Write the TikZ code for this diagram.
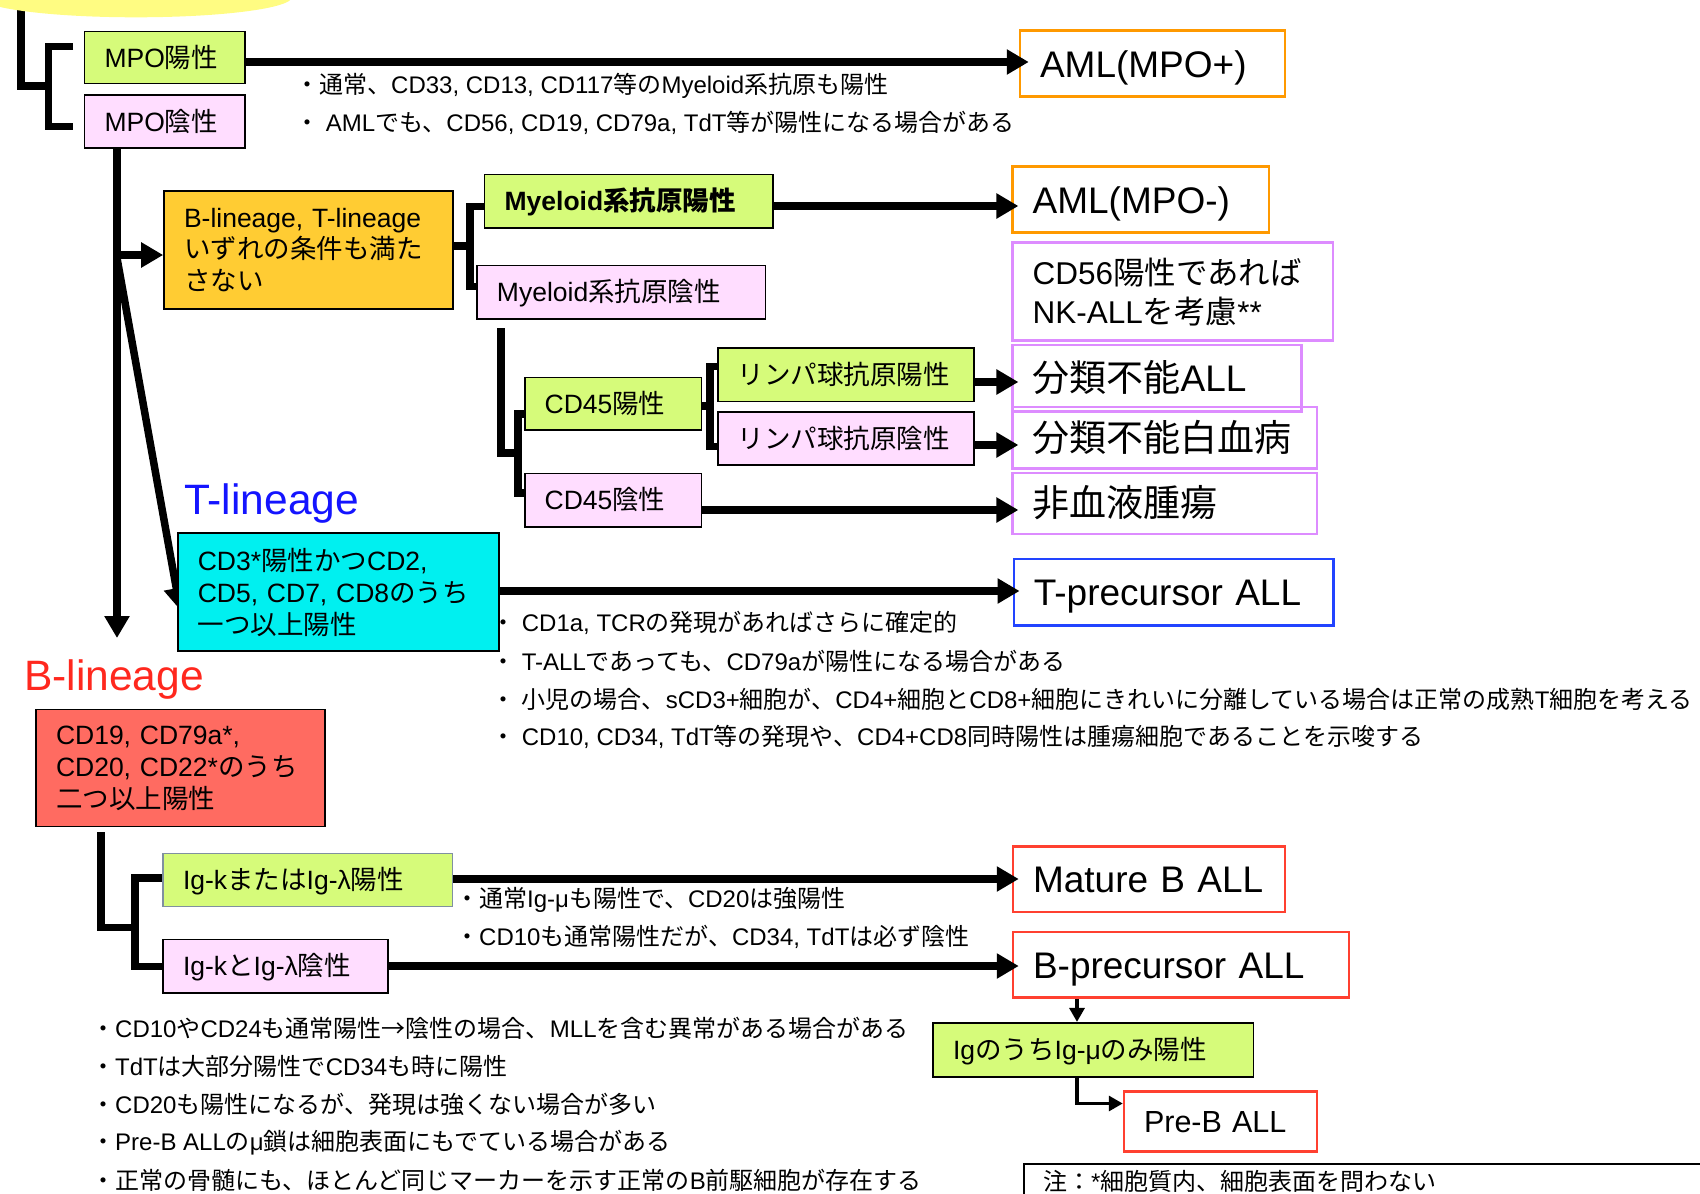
\documentclass[tikz,border=0pt]{standalone}
\usepackage{fontspec}
\setmainfont{Liberation Sans}
\newfontfamily\jpfont{Noto Sans CJK JP}
\usetikzlibrary{arrows.meta,calc}
\pgfdeclarelayer{bg}
\pgfsetlayers{bg,main}
\definecolor{cgreen}{RGB}{214,251,122}
\definecolor{cpink}{RGB}{255,221,255}
\definecolor{corange}{RGB}{255,204,51}
\definecolor{ccyan}{RGB}{0,240,240}
\definecolor{csalmon}{RGB}{255,107,97}
\definecolor{amlor}{RGB}{255,153,0}
\definecolor{vio}{RGB}{221,140,255}
\definecolor{tbord}{RGB}{34,68,255}
\definecolor{rbord}{RGB}{255,64,48}
\definecolor{tblue}{RGB}{20,20,255}
\definecolor{bred}{RGB}{255,40,30}
\definecolor{cyellow}{RGB}{255,252,130}
\definecolor{cgrayb}{RGB}{128,144,160}
% automatic switch to the Japanese font for CJK characters
\XeTeXinterchartokenstate=1
\newXeTeXintercharclass\JPclass
\newcount\jpc
\def\setjprange#1#2{\jpc=#1\relax\loop\XeTeXcharclass\jpc=\JPclass\ifnum\jpc<#2\relax\advance\jpc by 1\repeat}
\setjprange{"3000}{"30FF}
\setjprange{"4E00}{"9FFF}
\setjprange{"FF00}{"FFEF}
\XeTeXcharclass"2192=\JPclass
\XeTeXinterchartoks 0 \JPclass={\begingroup\jpfont}
\XeTeXinterchartoks 4095 \JPclass={\begingroup\jpfont}
\XeTeXinterchartoks \JPclass 0={\endgroup}
\XeTeXinterchartoks \JPclass 4095={\endgroup}
\begin{document}
\begin{tikzpicture}[x=1pt,y=-1pt,
 thk/.style={line width=7.5pt,-{Triangle[length=22pt,width=24pt]}},
 lk/.style={line width=7.5pt},
 thn/.style={line width=3.2pt,-{Triangle[length=14pt,width=15pt]}},
 bx/.style n args={3}{rectangle,inner xsep=20pt,inner ysep=0pt,align=left,minimum width=#1pt,text width=#2pt,minimum height=#3pt},
 blk/.style={draw=black,line width=1.6pt},
 gb/.style={blk,fill=cgreen},
 pb/.style={blk,fill=cpink},
 rb/.style={draw=#1,line width=2.5pt},
 f26/.style={font=\fontsize{26.5}{31.5}\selectfont},
 one26/.style={f26,text height=19.1pt,text depth=0pt},
 one37/.style={font=\fontsize{37}{44}\selectfont,text height=26.6pt,text depth=0pt},
 nt/.style={font=\fontsize{24}{28}\selectfont,inner sep=0pt,anchor=base west},
]
\useasboundingbox (0,0) rectangle (1700,1194);

% ---------- boxes ----------
\node[bx={160.4}{120.4}{52},gb,one26] (mpop) at (164.8,57.5) {MPO陽性};
\node[bx={160.4}{120.4}{53},pb,one26] (mpon) at (164.8,121.5) {MPO陰性};
\node[bx={265}{225}{66},rb=amlor,one37] (amlp) at (1152.5,63.7) {AML(MPO+)};
\node[bx={289}{249}{118},blk,fill=corange,f26] (neither) at (308.5,250) {B-lineage, T-lineage\\いずれの条件も満た\\さない};
\node[bx={288.4}{248.4}{53.5},gb,one26,font=\fontsize{26.5}{31.5}\selectfont\bfseries] (myp) at (628.8,201.3) {Myeloid系抗原陽性};
\node[bx={288.7}{248.7}{53.3},pb,one26] (myn) at (621.3,292.3) {Myeloid系抗原陰性};
\node[bx={256.3}{216.3}{66},rb=amlor,one37] (amln) at (1140.8,199.7) {AML(MPO-)};
\node[bx={320.3}{280.3}{98},rb=vio,font=\fontsize{31.5}{39}\selectfont] (nk) at (1172.8,291.7) {CD56陽性であれば\\NK-ALLを考慮**};
\node[bx={289}{249}{66.7},rb=vio,one37] (unall) at (1157.2,378.3) {分類不能ALL};
\node[bx={304.3}{264.3}{61.5},rb=vio,one37] (unleuk) at (1164.8,437.8) {分類不能白血病};
\node[bx={304.3}{264.3}{61},rb=vio,one37] (nonheme) at (1164.8,503.5) {非血液腫瘍};
\node[bx={176.8}{136.8}{52.5},gb,one26] (cd45p) at (613.1,403.8) {CD45陽性};
\node[bx={176.8}{136.8}{53.5},pb,one26] (cd45n) at (613.1,500.3) {CD45陰性};
\node[bx={256}{216}{53.5},gb,one26] (lymp) at (845.7,374.8) {リンパ球抗原陽性};
\node[bx={256}{216}{53},pb,one26] (lymn) at (845.7,438.5) {リンパ球抗原陰性};
\node[anchor=base west,inner sep=0pt,text=tblue,font=\fontsize{42.5}{50}\selectfont] (tlab) at (184,514) {T-lineage};
\node[bx={320.9}{280.9}{118},blk,fill=ccyan,font=\fontsize{26.5}{32}\selectfont] (tbox) at (338.25,592) {CD3*陽性かつCD2,\\CD5, CD7, CD8のうち\\一つ以上陽性};
\node[bx={319.9}{279.9}{66.5},rb=tbord,one37] (tprec) at (1173.75,592.25) {T-precursor ALL};
\node[anchor=base west,inner sep=0pt,text=bred,font=\fontsize{42.5}{50}\selectfont] (blab) at (24,690) {B-lineage};
\node[bx={289}{249}{117},blk,fill=csalmon,font=\fontsize{26.5}{32}\selectfont] (bbox) at (180.5,768) {CD19, CD79a*,\\CD20, CD22*のうち\\二つ以上陽性};
\node[bx={289.5}{249.5}{53.3},draw=cgrayb,line width=1.6pt,fill=cgreen,one26] (igkp) at (307.75,880) {Ig-kまたはIg-λ陽性};
\node[bx={225}{185}{53.7},pb,one26] (igkn) at (275.5,966.2) {Ig-kとIg-λ陰性};
\node[bx={272}{232}{65.3},rb=rbord,one37] (mature) at (1149,879.3) {Mature B ALL};
\node[bx={336}{296}{65.7},rb=rbord,one37] (bprec) at (1181,964.8) {B-precursor ALL};
\node[bx={320.3}{280.3}{54},gb,one26] (igmu) at (1093.2,1049.7) {IgのうちIg-μのみ陽性};
\node[bx={193}{153}{60},rb=rbord,font=\fontsize{30.5}{36}\selectfont,text height=22pt,text depth=0pt] (preb) at (1220.5,1121.7) {Pre-B ALL};
\node[draw=black,line width=2pt,anchor=north west,minimum width=720pt,minimum height=80pt,inner sep=0pt] (notebox) at (1023,1163) {};
\node[nt] (notetxt) at (1043,1190.4) {注：*細胞質内、細胞表面を問わない};

% ---------- notes ----------
\node[nt] (n1) at (295,93.3) {・通常、CD33, CD13, CD117等のMyeloid系抗原も陽性};
\node[nt] (n2) at (295,131.2) {・ AMLでも、CD56, CD19, CD79a, TdT等が陽性になる場合がある};
\node[nt] (t1) at (491,631) {・ CD1a, TCRの発現があればさらに確定的};
\node[nt] (t2) at (491,670) {・ T-ALLであっても、CD79aが陽性になる場合がある};
\node[nt] (t3) at (491,708) {・ 小児の場合、sCD3+細胞が、CD4+細胞とCD8+細胞にきれいに分離している場合は正常の成熟T細胞を考える};
\node[nt] (t4) at (491,745.5) {・ CD10, CD34, TdT等の発現や、CD4+CD8同時陽性は腫瘍細胞であることを示唆する};
\node[nt] (g1) at (455,907.7) {・通常Ig-μも陽性で、CD20は強陽性};
\node[nt] (g2) at (455,945.7) {・CD10も通常陽性だが、CD34, TdTは必ず陰性};
\node[nt] (b1) at (91,1037) {・CD10やCD24も通常陽性→陰性の場合、MLLを含む異常がある場合がある};
\node[nt] (b2) at (91,1075) {・TdTは大部分陽性でCD34も時に陽性};
\node[nt] (b3) at (91,1113) {・CD20も陽性になるが、発現は強くない場合が多い};
\node[nt] (b4) at (91,1150) {・Pre-B ALLのμ鎖は細胞表面にもでている場合がある};
\node[nt] (b5) at (91,1189) {・正常の骨髄にも、ほとんど同じマーカーを示す正常のB前駆細胞が存在する};

% ---------- coordinates ----------
\coordinate (lt0) at (21,-10);
\coordinate (lt1) at (48.4,86);
\coordinate (mb1) at (73,46.3);
\coordinate (mb2) at (73,126.7);
\coordinate (btip) at (117,638);
\coordinate (br1) at (117,255);
\coordinate (br2) at (117,258);
\coordinate (ob) at (470,246);
\coordinate (ob1) at (470,206.7);
\coordinate (ob2) at (470,286.7);
\coordinate (md0) at (501,328);
\coordinate (cb) at (518,453);
\coordinate (cb1) at (518,414);
\coordinate (cb2) at (518,493);
\coordinate (lb) at (710,406);
\coordinate (lb1) at (710,366.5);
\coordinate (lb2) at (710,446.5);
\coordinate (bb0) at (101,832);
\coordinate (bb1) at (135,927.5);
\coordinate (bb2) at (135,878);
\coordinate (bb3) at (135,966.7);
\coordinate (ux) at (1077,0);
\coordinate (y1) at (0,62);
\coordinate (y2) at (0,206);
\coordinate (y3) at (0,382);
\coordinate (y4) at (0,445);
\coordinate (y5) at (0,510);
\coordinate (y6) at (0,591);
\coordinate (y7) at (0,879);
\coordinate (y8) at (0,966);
\coordinate (y9) at (0,1103.5);

% ---------- background lines ----------
\begin{pgfonlayer}{bg}
\draw[lk] (lt0) |- (lt1);
\draw[lk] (mb1) -| (lt1) |- (mb2);
\fill[cyellow] (136,-3) ellipse [x radius=156, y radius=20.3];
\draw[thk] (mpon.south -| btip) -- (btip);
\draw[thk] (br2) -- ($(tbox.west)+(3.2,18)$);
\draw[lk] (neither.east |- ob) -- (ob);
\draw[lk] (myp.west |- ob1) -- (ob1) -- (ob2) -- (myn.west |- ob2);
\draw[lk] (md0) |- (cb);
\draw[lk] (cd45p.west |- cb1) -- (cb1) -- (cb2) -- (cd45n.west |- cb2);
\draw[lk] (cd45p.east |- lb) -- (lb);
\draw[lk] (lymp.west |- lb1) -- (lb1) -- (lb2) -- (lymn.west |- lb2);
\draw[lk] (bb0) |- (bb1);
\draw[lk] (igkp.west |- bb2) -- (bb2) -- (bb3) -- (igkn.west |- bb3);
\end{pgfonlayer}

% ---------- arrows ----------
\draw[thk] (br1) -- (neither.west |- br1);
\draw[thk] (mpop.east |- y1) -- ($(amlp.west |- y1)+(10,0)$);
\draw[thk] (myp.east |- y2) -- ($(amln.west |- y2)+(7,0)$);
\draw[thk] (lymp.east |- y3) -- ($(unall.west |- y3)+(7,0)$);
\draw[thk] (lymn.east |- y4) -- ($(unleuk.west |- y4)+(7,0)$);
\draw[thk] (cd45n.east |- y5) -- ($(nonheme.west |- y5)+(7,0)$);
\draw[thk] (tbox.east |- y6) -- ($(tprec.west |- y6)+(7,0)$);
\draw[thk] (igkp.east |- y7) -- ($(mature.west |- y7)+(7,0)$);
\draw[thk] (igkn.east |- y8) -- ($(bprec.west |- y8)+(7,0)$);
\draw[thn] (bprec.south -| ux) -- (igmu.north -| ux);
\draw[thn] (igmu.south -| ux) |- (preb.west |- y9);
\end{tikzpicture}
\end{document}
